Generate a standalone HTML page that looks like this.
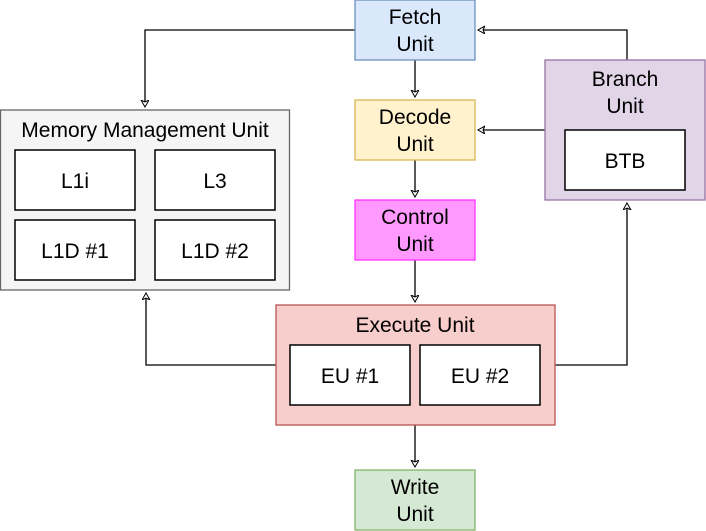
<!DOCTYPE html>
<html><head><meta charset="utf-8"><style>
html,body{margin:0;padding:0;background:#fff;}
svg{display:block;}
text{font-family:"Liberation Sans",sans-serif;font-size:21px;text-anchor:middle;fill:#000;}
</style></head><body>
<svg width="706" height="531" viewBox="0 0 706 531" xmlns="http://www.w3.org/2000/svg">
<defs>
<marker id="a" markerWidth="10" markerHeight="10" refX="7" refY="4" orient="auto" markerUnits="userSpaceOnUse">
<path d="M0,0 L7,4 L0,8 L2,4 Z" fill="#fff" stroke="#000" stroke-width="1"/>
</marker>
</defs>
<g fill="none" stroke="#000" stroke-width="1.3">
<path d="M355,30 H145 V107" marker-end="url(#a)"/>
<path d="M415,60 V97" marker-end="url(#a)"/>
<path d="M415,160 V197" marker-end="url(#a)"/>
<path d="M415,260 V302" marker-end="url(#a)"/>
<path d="M415,425 V467" marker-end="url(#a)"/>
<path d="M276,365 H146 V293" marker-end="url(#a)"/>
<path d="M555,365 H627 V203" marker-end="url(#a)"/>
<path d="M627,60 V30 H478" marker-end="url(#a)"/>
<path d="M545,130 H478" marker-end="url(#a)"/>
</g>
<rect x="355" y="0" width="120" height="60" fill="#dae8fc" stroke="#6c8ebf" stroke-width="1.3"/>
<text x="415" y="24">Fetch</text><text x="415" y="51">Unit</text>
<rect x="355" y="100" width="120" height="60" fill="#fff2cc" stroke="#d6b656" stroke-width="1.3"/>
<text x="415" y="124">Decode</text><text x="415" y="151">Unit</text>
<rect x="355" y="200" width="120" height="60" fill="#ff99ff" stroke="#ff33ff" stroke-width="1.3"/>
<text x="415" y="224">Control</text><text x="415" y="251">Unit</text>
<rect x="276" y="305" width="279" height="120" fill="#f8cecc" stroke="#b85450" stroke-width="1.3"/>
<text x="415" y="332">Execute Unit</text>
<rect x="290" y="345" width="120" height="60" fill="#fff" stroke="#000" stroke-width="1.5"/>
<text x="350" y="383">EU #1</text>
<rect x="420" y="345" width="120" height="60" fill="#fff" stroke="#000" stroke-width="1.5"/>
<text x="480" y="383">EU #2</text>
<rect x="355" y="470" width="120" height="60" fill="#d5e8d4" stroke="#82b366" stroke-width="1.3"/>
<text x="415" y="494">Write</text><text x="415" y="521">Unit</text>
<rect x="0.5" y="110" width="289" height="180" fill="#f5f5f5" stroke="#666" stroke-width="1.3"/>
<text x="145" y="137" fill="#333">Memory Management Unit</text>
<rect x="15" y="150" width="120" height="60" fill="#fff" stroke="#000" stroke-width="1.5"/>
<text x="75" y="188">L1i</text>
<rect x="155" y="150" width="120" height="60" fill="#fff" stroke="#000" stroke-width="1.5"/>
<text x="215" y="188">L3</text>
<rect x="15" y="220" width="120" height="60" fill="#fff" stroke="#000" stroke-width="1.5"/>
<text x="75" y="258">L1D #1</text>
<rect x="155" y="220" width="120" height="60" fill="#fff" stroke="#000" stroke-width="1.5"/>
<text x="215" y="258">L1D #2</text>
<rect x="545" y="60" width="160" height="140" fill="#e1d5e7" stroke="#9673a6" stroke-width="1.3"/>
<text x="625" y="86">Branch</text><text x="625" y="113">Unit</text>
<rect x="565" y="130" width="120" height="60" fill="#fff" stroke="#000" stroke-width="1.5"/>
<text x="625" y="168">BTB</text>
</svg>
</body></html>
